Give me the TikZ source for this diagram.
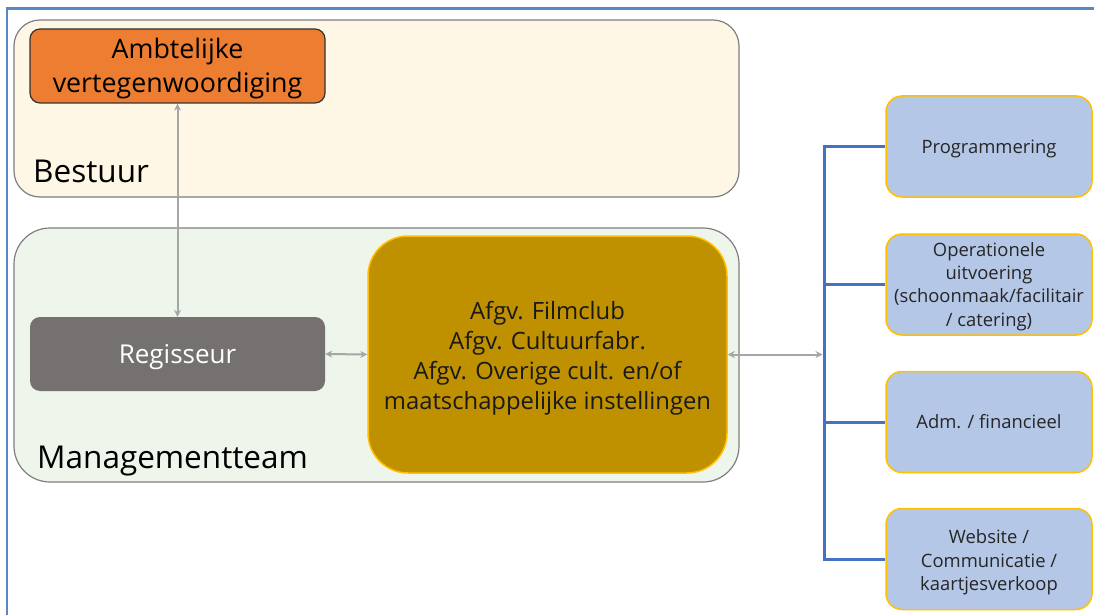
\documentclass[tikz,border=0pt]{standalone}
\usepackage{fontspec}
\setmainfont{Open Sans}
\usetikzlibrary{arrows.meta}
\definecolor{frameblue}{HTML}{5B87C8}
\definecolor{busblue}{HTML}{4472C4}
\definecolor{cream}{HTML}{FFF7E6}
\definecolor{mint}{HTML}{EEF6EC}
\definecolor{orangefill}{HTML}{ED7D31}
\definecolor{greyfill}{HTML}{767171}
\definecolor{goldfill}{HTML}{BF9000}
\definecolor{goldline}{HTML}{FFC000}
\definecolor{bluefill}{HTML}{B4C7E7}
\definecolor{arrowgrey}{HTML}{A6A6A6}
\definecolor{boxline}{HTML}{7F7F7F}
% lowered multi-line text block (keeps its nominal size)
\newcommand{\lowtext}[2]{\raisebox{-#1}[\height][\depth]{\begin{tabular}{@{}c@{}}#2\end{tabular}}}
\tikzset{
  group/.style={draw=boxline, line width=1.2pt, minimum width=725pt},
  inner/.style={minimum width=295pt, minimum height=74pt, rounded corners=10pt, align=center, inner sep=0pt},
  unit/.style={draw=goldline, fill=bluefill, line width=1.5pt, rounded corners=16pt, minimum width=206pt, minimum height=101pt, inner sep=0pt, font=\fontsize{18.4}{23.4}\selectfont, text=black!85},
  conn/.style={draw=arrowgrey, line width=2pt, {Stealth[length=7pt,width=7pt]}-{Stealth[length=7pt,width=7pt]}},
  bus/.style={draw=busblue, line width=3pt},
  lbl/.style={anchor=base west, inner sep=0pt, font=\fontsize{31.5}{36}\selectfont}
}
\begin{document}
\begin{tikzpicture}[x=1pt,y=-1pt]
\useasboundingbox (0,0) rectangle (1094,615);
\fill[white] (0,0) rectangle (1094,615);
\draw[frameblue, line width=2.5pt] (7,616) -- (7,8.5) -- (1095,8.5);
% groups
\node[group, fill=cream, minimum height=177pt, rounded corners=26pt] (bestuur) at (376.5,108.5) {};
\node[group, fill=mint, minimum height=254pt, rounded corners=36pt] (mt) at (376.5,355) {};
\node[lbl] (lb) at (33,182) {Bestuur};
\node[lbl] (lm) at (37,468) {Managementteam};
% inner boxes
\node[inner, draw=black!80, line width=1.2pt, fill=orangefill, font=\fontsize{26.8}{34}\selectfont] (ambt) at (177.5,66) {\lowtext{3pt}{Ambtelijke\\vertegenwoordiging}};
\node[inner, fill=greyfill, text=white, font=\fontsize{26}{30}\selectfont] (reg) at (177.5,354) {\lowtext{3.5pt}{Regisseur}};
\node[draw=goldline, line width=1.5pt, fill=goldfill, minimum width=359pt, minimum height=237pt, rounded corners=40pt, inner sep=0pt, font=\fontsize{23.8}{30}\selectfont, text=black!90] (afgv) at (547.5,354.5) {\lowtext{4pt}{Afgv. Filmclub\\Afgv. Cultuurfabr.\\Afgv. Overige cult. en/of\\maatschappelijke instellingen}};
% right units
\node[unit] (prog) at (989,146.5) {\lowtext{2pt}{Programmering}};
\node[unit] (oper) at (989,284.5) {\lowtext{2pt}{Operationele\\uitvoering\\(schoonmaak/facilitair\\/ catering)}};
\node[unit] (adm) at (989,422) {\lowtext{2pt}{Adm. / financieel}};
\node[unit] (web) at (989,559) {\lowtext{3.5pt}{Website /\\Communicatie /\\kaartjesverkoop}};
% bus
\coordinate (bt) at (824,145);
\draw[bus, line join=miter] (prog.west) -- (prog.west -| bt) -- (web.west -| bt) -- (web.west);
\draw[bus] (oper.west -| bt) -- (oper.west);
\draw[bus] (adm.west -| bt) -- (adm.west);
% arrows
\draw[conn] (ambt.south) -- (reg.north);
\draw[conn] (reg.east) -- (afgv.west);
\draw[conn] (afgv.east) -- ([xshift=-1.5pt]afgv.east -| bt);
\end{tikzpicture}
\end{document}
